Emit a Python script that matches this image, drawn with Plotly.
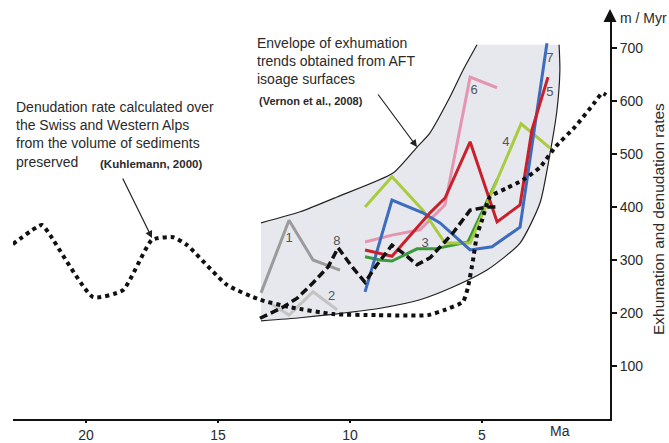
import plotly.graph_objects as go

# ---------------- data (Ma, m/Myr) ----------------
kuhl_ma = [22.77, 21.67, 21.36, 19.73, 18.6, 17.5, 16.7, 16.17, 14.66, 13.41, 12.27, 10.64,
           8.94, 7.05, 6.4, 5.72, 5.53, 5.34, 5.19, 5.0, 4.7, 4.05, 3.45, 2.8, 2.23, 1.48, 0.72, 0.45, 0.3]
kuhl_rate = [330, 366, 347, 230, 243, 338, 343, 328, 253, 225, 211, 198,
             196, 196, 206, 221, 249, 300, 347, 375, 419, 436, 451, 475, 513, 551, 598, 615, 611]

env_upper_ma = [13.37, 11.89, 10.49, 8.37, 7.46, 6.97, 6.21, 5.72, 5.19]
env_upper_rate = [370, 391, 419, 464, 513, 540, 608, 658, 706]
env_lower_ma = [13.37, 11.89, 10.57, 8.86, 7.35, 6.1, 4.81, 3.56, 2.8, 2.42, 2.16, 2.05, 2.08]
env_lower_rate = [185, 191, 198, 209, 225, 249, 281, 332, 408, 502, 583, 658, 706]

s1_ma = [13.37, 12.31, 11.4, 10.38]
s1_rate = [238, 375, 300, 281]
s2_ma = [13.03, 12.31, 11.4, 10.49]
s2_rate = [219, 196, 240, 206]
s3_ma = [9.43, 8.86, 8.41, 7.46, 6.78, 5.53, 4.43]
s3_rate = [306, 300, 298, 321, 321, 334, 451]
s4_ma = [9.43, 8.41, 7.24, 6.40, 5.45, 3.52, 2.42]
s4_rate = [400, 457, 394, 332, 332, 557, 511]
s5_ma = [9.43, 8.41, 6.97, 6.40, 5.45, 4.43, 3.56, 3.11, 2.50]
s5_rate = [319, 307, 389, 417, 523, 372, 404, 545, 645]
s6_ma = [9.43, 8.41, 7.35, 6.40, 5.45, 4.43]
s6_rate = [334, 347, 357, 404, 645, 625]
s7_ma = [9.43, 8.41, 7.24, 6.59, 5.45, 4.62, 3.56, 2.54]
s7_rate = [240, 413, 389, 370, 319, 325, 362, 709]
s8_ma = [13.41, 12.54, 12.0, 11.4, 10.83, 10.45, 9.92, 9.43, 8.98, 8.41, 7.99, 7.46, 6.97, 6.1, 5.45, 4.81, 4.43]
s8_rate = [190, 211, 228, 257, 287, 323, 287, 258, 291, 328, 313, 291, 304, 351, 394, 400, 400]

series_labels = ["1", "2", "3", "4", "5", "6", "7", "8"]
label_ma = [12.31, 10.7, 7.15, 4.1, 2.43, 5.3, 2.43, 10.5]
label_rate = [340, 230, 330, 522, 615, 620, 680, 335]

x_ticks = [20, 15, 10, 5]
y_ticks = [100, 200, 300, 400, 500, 600, 700]

# ---------------- layout geometry ----------------
W, H = 669, 443
L, R_PX, T, B_PX = 13, 610, 18, 419          # pixel coordinates of plot area
X_RANGE = [10 + (350 - L) / 26.4, 10 + (350 - R_PX) / 26.4]
Y_RANGE = [0, (B_PX - T) / 0.53]


def px(x):
    return (x - L) / (R_PX - L)


def py(y):
    return (B_PX - y) / (B_PX - T)


FONT = "Liberation Sans, Arial, sans-serif"
TXT = "#2a2a2a"

fig = go.Figure()

# envelope: lower curve, then upper curve filled to it
fig.add_trace(go.Scatter(x=env_lower_ma, y=env_lower_rate, mode="lines",
                         line=dict(color="#222", width=1.2, shape="spline", smoothing=0.6),
                         hoverinfo="skip"))
fig.add_trace(go.Scatter(x=env_upper_ma, y=env_upper_rate, mode="lines", fill="tonexty",
                         fillcolor="#e7e7ee",
                         line=dict(color="#222", width=1.2, shape="spline", smoothing=0.6),
                         hoverinfo="skip"))

series = [
    (s1_ma, s1_rate, "#9b9b9b"),
    (s2_ma, s2_rate, "#c4c4c4"),
    (s6_ma, s6_rate, "#e496b0"),
    (s3_ma, s3_rate, "#3a9a3c"),
    (s4_ma, s4_rate, "#a9cc3e"),
    (s7_ma, s7_rate, "#3b6cbe"),
    (s5_ma, s5_rate, "#c9202b"),
]
for xs, ys, col in series:
    fig.add_trace(go.Scatter(x=xs, y=ys, mode="lines", line=dict(color=col, width=3)))

fig.add_trace(go.Scatter(x=s8_ma, y=s8_rate, mode="lines",
                         line=dict(color="#111", width=3.5, dash="8px,4px")))
fig.add_trace(go.Scatter(x=kuhl_ma, y=kuhl_rate, mode="lines",
                         line=dict(color="#111", width=4, dash="dot", shape="spline", smoothing=0.5)))

# series number labels
fig.add_trace(go.Scatter(x=label_ma, y=label_rate, mode="text", text=series_labels,
                         textfont=dict(family=FONT, size=13, color="#555")))

ann = []
ann.append(dict(xref="paper", yref="paper", x=px(255), y=py(33), xanchor="left", yanchor="top",
                text="Envelope of exhumation<br>trends obtained from AFT<br>isoage surfaces",
                showarrow=False, align="left", font=dict(family=FONT, size=14, color=TXT)))
ann.append(dict(xref="paper", yref="paper", x=px(257), y=py(101), xanchor="left", yanchor="middle",
                text="<b>(Vernon et al., 2008)</b>", showarrow=False,
                font=dict(family=FONT, size=11, color=TXT)))
ann.append(dict(xref="paper", yref="paper", x=px(14), y=py(97), xanchor="left", yanchor="top",
                text="Denudation rate calculated over<br>the Swiss and Western Alps<br>from the volume of sediments<br>preserved",
                showarrow=False, align="left", font=dict(family=FONT, size=14, color=TXT)))
ann.append(dict(xref="paper", yref="paper", x=px(98), y=py(164), xanchor="left", yanchor="middle",
                text="<b>(Kuhlemann, 2000)</b>", showarrow=False,
                font=dict(family=FONT, size=11.5, color=TXT)))
# pointer arrows
ann.append(dict(xref="paper", yref="paper", x=px(417), y=py(147), ax=-40, ay=-54, text="",
                showarrow=True, arrowhead=2, arrowsize=1.2, arrowwidth=1.2, arrowcolor="#222"))
ann.append(dict(xref="paper", yref="paper", x=px(152), y=py(238), ax=-30, ay=-61, text="",
                showarrow=True, arrowhead=2, arrowsize=1.2, arrowwidth=1.2, arrowcolor="#222"))
# y axis arrow + unit
ann.append(dict(xref="paper", yref="paper", x=1, y=py(9), ax=0, ay=14, text="",
                showarrow=True, arrowhead=2, arrowsize=1.3, arrowwidth=2, arrowcolor="#111"))
ann.append(dict(xref="paper", yref="paper", x=px(618), y=py(18), xanchor="left", yanchor="middle",
                text="m / Myr", showarrow=False, font=dict(family=FONT, size=14, color=TXT)))
ann.append(dict(xref="paper", yref="paper", x=px(658), y=py(219), xanchor="center", yanchor="middle",
                text="Exhumation and denudation rates", textangle=-90, showarrow=False,
                font=dict(family=FONT, size=15.5, color=TXT)))
ann.append(dict(xref="paper", yref="paper", x=px(560), y=py(431), xanchor="center", yanchor="middle",
                text="Ma", showarrow=False, font=dict(family=FONT, size=14, color=TXT)))

fig.update_layout(
    width=W, height=H,
    margin=dict(l=L, r=W - R_PX, t=T, b=H - B_PX, pad=0, autoexpand=False),
    paper_bgcolor="white", plot_bgcolor="white",
    showlegend=False,
    annotations=ann,
    xaxis=dict(range=X_RANGE, showgrid=False, zeroline=False, showline=True, linecolor="#111",
               linewidth=2, ticks="outside", ticklen=2, tickwidth=1.5, tickcolor="#111",
               tickvals=x_ticks, ticktext=[str(v) for v in x_ticks], automargin=False,
               tickfont=dict(family=FONT, size=14, color=TXT)),
    yaxis=dict(range=Y_RANGE, side="right", showgrid=False, zeroline=False, showline=True,
               linecolor="#111", linewidth=2, ticks="outside", ticklen=5, tickwidth=1.5,
               tickcolor="#111", tickvals=y_ticks, ticktext=[str(v) for v in y_ticks],
               automargin=False, tickfont=dict(family=FONT, size=14, color=TXT)),
)

fig.write_html("out.html", config={"displayModeBar": False},
               post_script="document.body.style.margin='0';document.body.style.overflow='hidden';")
